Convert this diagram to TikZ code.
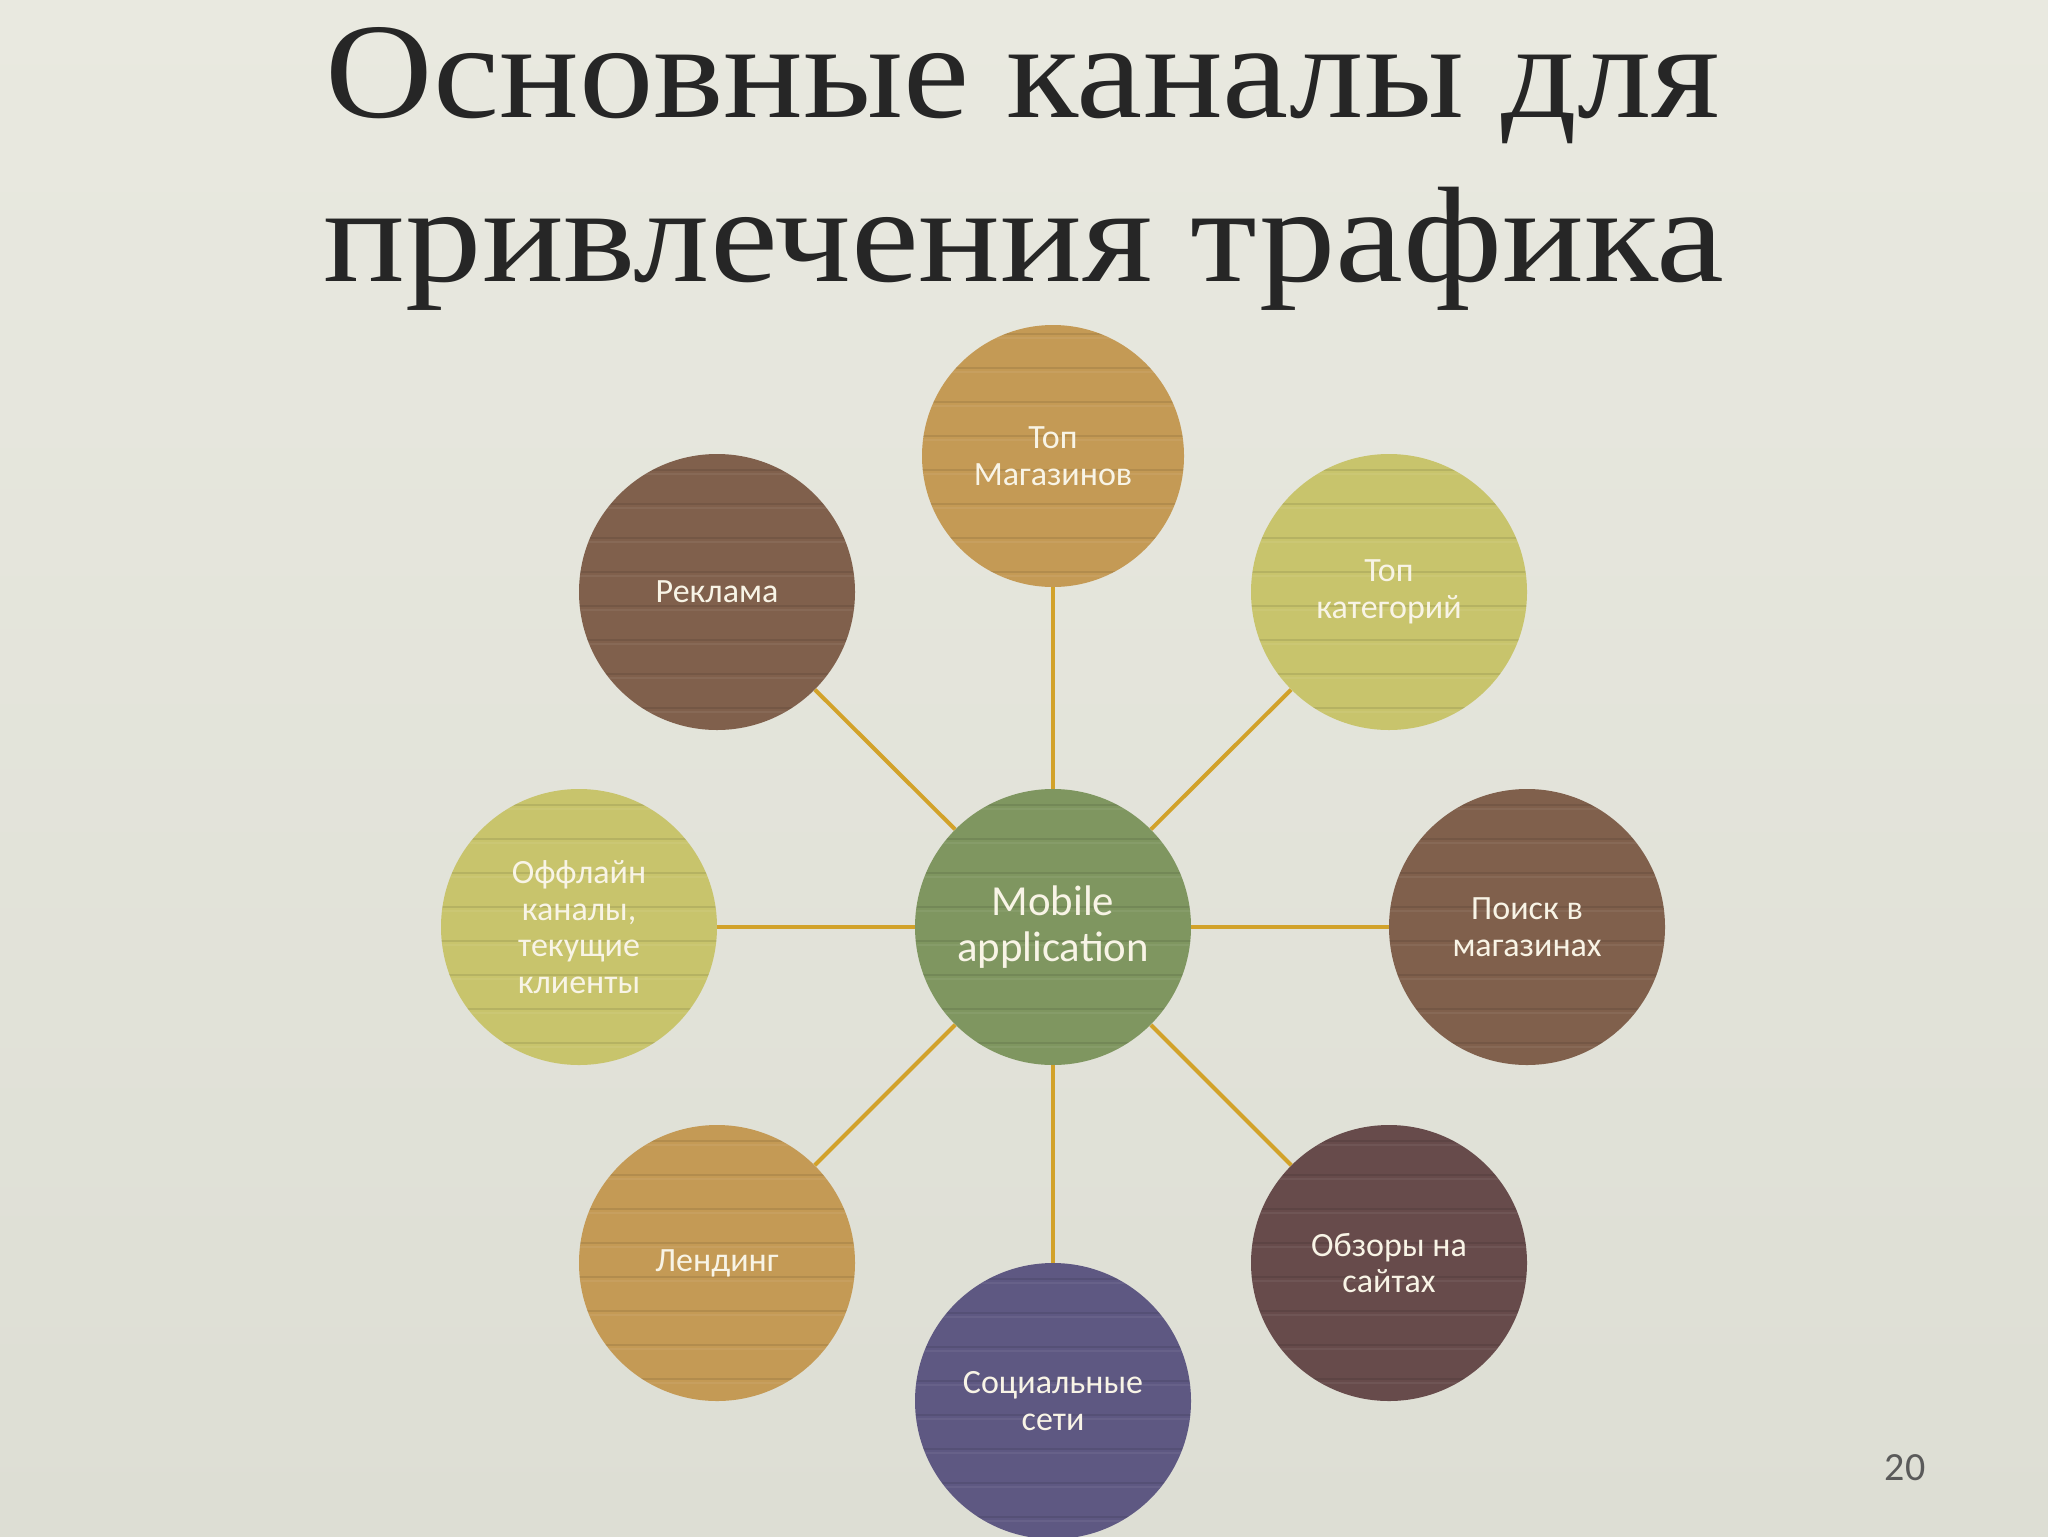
\documentclass[tikz,border=0pt]{standalone}
\usepackage{fontspec}
\setmainfont{Liberation Serif}
\newfontfamily\calibrifont{Carlito}
\usetikzlibrary{calc}
\definecolor{bgtop}{HTML}{E9E9E0}
\definecolor{bgbot}{HTML}{DDDED4}
\definecolor{titlec}{HTML}{262626}
\definecolor{txtc}{HTML}{F8F4E6}
\definecolor{linkc}{HTML}{D2A22A}
\definecolor{cGold}{HTML}{C49A55}
\definecolor{cOlive}{HTML}{C8C46C}
\definecolor{cBrown}{HTML}{80604C}
\definecolor{cMauve}{HTML}{674B4B}
\definecolor{cPurple}{HTML}{5E5882}
\definecolor{cGreen}{HTML}{7F9660}
\definecolor{numc}{HTML}{5A5A5A}
\tikzset{
  bubble/.style={circle, minimum size=138pt, inner sep=0pt, fill=#1, text=txtc,
    font=\calibrifont\fontsize{17}{18.3}\selectfont, align=center,
    path picture={
      \foreach \k in {-5,...,5}{
        \draw[black,opacity=0.09,line width=1.2pt]
          ($(path picture bounding box.center)+(-170,\k*34+14)$) -- ++(340,0);
        \draw[white,opacity=0.06,line width=1.2pt]
          ($(path picture bounding box.center)+(-170,\k*34+18)$) -- ++(340,0);
      }
    }},
  link/.style={draw=linkc, line width=2pt},
  titletext/.style={anchor=base, text=titlec, inner sep=0pt, font=\fontsize{68}{80}\selectfont},
}
\begin{document}
\begin{tikzpicture}[x=0.5pt,y=-0.5pt]
\useasboundingbox (0,0) rectangle (2048,1536);
\clip (0,0) rectangle (2048,1536);
\shade[top color=bgtop, bottom color=bgbot] (0,0) rectangle (2048,1536);

\node[titletext] (t1) at (1023,118) {\resizebox{697pt}{\height}{Основные каналы для}};
\node[titletext] (t2) at (1024,281) {\resizebox{700pt}{\height}{привлечения трафика}};

\node[bubble=cGreen, font=\calibrifont\fontsize{21.4}{22.8}\selectfont] (app) at (1053,927) {Mobile\\application};
\node[bubble=cGold, minimum size=131pt] (topm) at (1053,456) {Топ\\Магазинов};
\node[bubble=cOlive] (topc) at (1389,592) {Топ\\категорий};
\node[bubble=cBrown] (ad) at (717,592) {Реклама};
\node[bubble=cOlive] (off) at (579,927) {Оффлайн\\каналы,\\текущие\\клиенты};
\node[bubble=cBrown] (search) at (1527,927) {Поиск в\\магазинах};
\node[bubble=cGold] (land) at (717,1263) {Лендинг};
\node[bubble=cMauve] (rev) at (1389,1263) {Обзоры на\\сайтах};
\node[bubble=cPurple] (soc) at (1053,1401) {Социальные\\сети};

\foreach \n in {topm,topc,ad,off,search,land,rev,soc}
  \draw[link] (app) -- (\n);

\node[text=numc, font=\calibrifont\fontsize{20}{24}\selectfont] (num) at (1905,1468) {20};
\end{tikzpicture}
\end{document}
